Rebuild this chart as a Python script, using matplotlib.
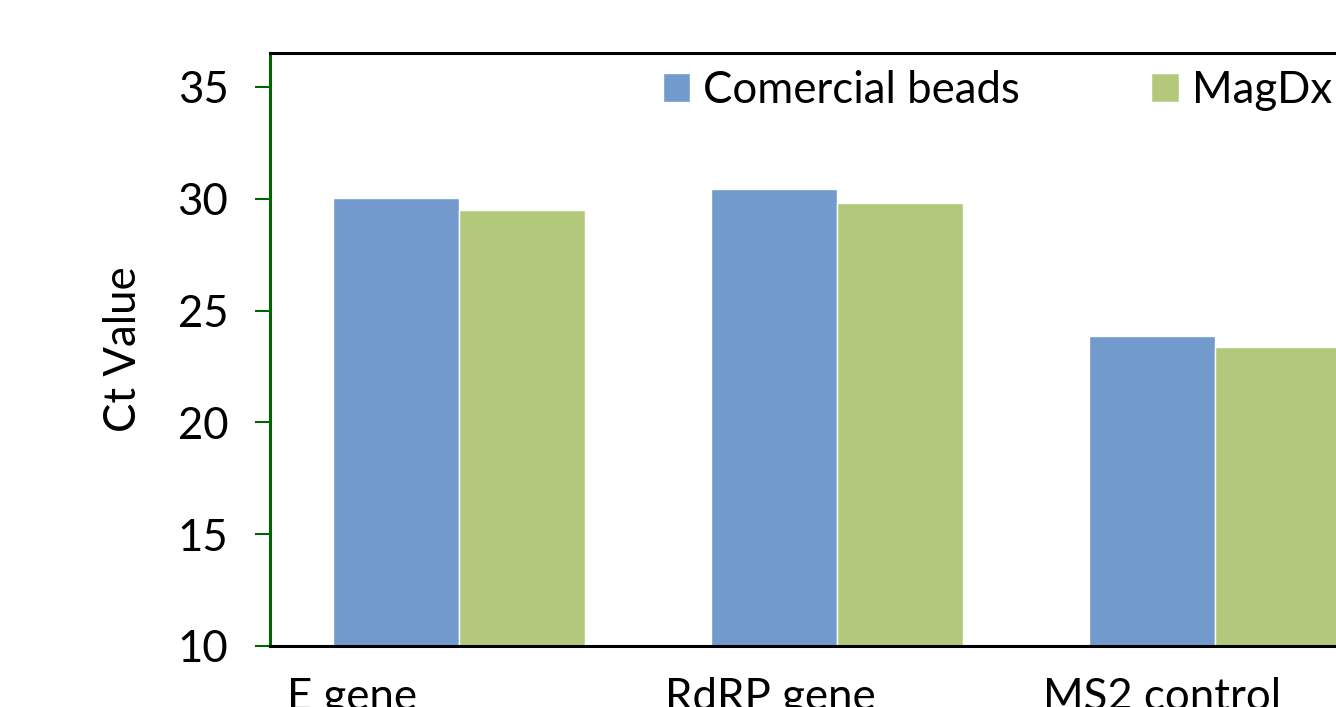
import numpy as np
import matplotlib
matplotlib.use("Agg")
import matplotlib.pyplot as plt
import matplotlib.transforms as mtrans

plt.rcParams['font.family'] = ['Lato', 'DejaVu Sans']

genes = ["E gene", "RdRP gene", "MS2 control"]
commercial = [30.05, 30.42, 23.86]
magdx = [29.52, 29.81, 23.35]
series_names = ["Comercial beads", "MagDx"]
yticks = [10, 15, 20, 25, 30, 35]

blue = "#739acc"
green = "#b2c97c"
spine_green = "#006400"
fs = 31.5

fig = plt.figure(figsize=(13.36, 7.07), dpi=100)
# axes run past the right edge of the figure, so the last group is clipped
ax = fig.add_axes([270 / 1336, 1 - 646 / 707, 1134 / 1336, (646 - 53) / 707])

x = np.arange(len(genes))
w = 1 / 3
ax.bar(x - w / 2, commercial, w, color=blue, edgecolor="white", linewidth=1,
       label=series_names[0], zorder=2)
ax.bar(x + w / 2, magdx, w, color=green, edgecolor="white", linewidth=1,
       label=series_names[1], zorder=2)

ax.set_xlim(-0.5, len(genes) - 0.5)
ax.set_ylim(10, 36.52)
ax.set_yticks(yticks)
ax.tick_params(axis='y', labelsize=fs, length=11, width=1.5, color=spine_green,
               direction='out', pad=19)
ax.set_ylabel("Ct Value", fontsize=fs, labelpad=24)

ax.set_xticks(x)
ax.set_xticklabels(genes, fontsize=fs, ha='left')
ax.tick_params(axis='x', length=0, pad=22)
shift = mtrans.ScaledTranslation(-172 / 100, 0, fig.dpi_scale_trans)
for lab in ax.get_xticklabels():
    lab.set_transform(lab.get_transform() + shift)

ax.spines['left'].set_color(spine_green)
ax.spines['left'].set_linewidth(2.2)
ax.spines['top'].set_linewidth(2.2)
ax.spines['bottom'].set_linewidth(2.2)
ax.spines['right'].set_visible(False)

ax.legend(loc='upper left', bbox_to_anchor=(663 / 1336, 1 - 70 / 707),
          bbox_transform=fig.transFigure, ncol=2, frameon=False, fontsize=fs,
          handlelength=0.62, handleheight=0.62, handletextpad=0.3,
          columnspacing=3.0, borderpad=0, borderaxespad=0)

fig.savefig("out.png", dpi=100)
